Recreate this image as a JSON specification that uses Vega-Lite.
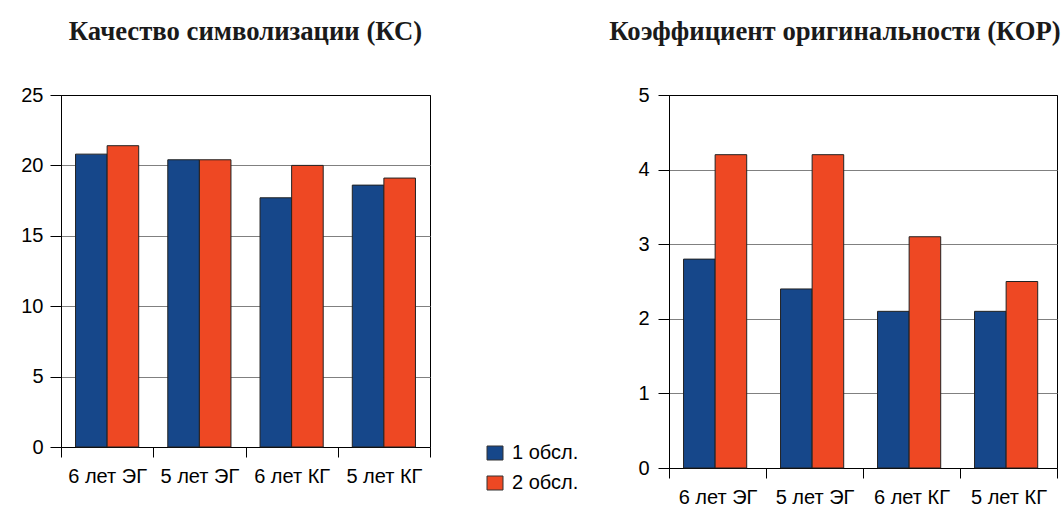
{
  "$schema": "https://vega.github.io/schema/vega-lite/v6.json",
  "padding": {"left": 20, "top": 18, "right": 0, "bottom": 0},
  "background": "#ffffff",
  "datasets": {
    "ks": [
      {"group": "6 лет ЭГ", "obs": "1 обсл.", "value": 20.8},
      {"group": "6 лет ЭГ", "obs": "2 обсл.", "value": 21.4},
      {"group": "5 лет ЭГ", "obs": "1 обсл.", "value": 20.4},
      {"group": "5 лет ЭГ", "obs": "2 обсл.", "value": 20.4},
      {"group": "6 лет КГ", "obs": "1 обсл.", "value": 17.7},
      {"group": "6 лет КГ", "obs": "2 обсл.", "value": 20.0},
      {"group": "5 лет КГ", "obs": "1 обсл.", "value": 18.6},
      {"group": "5 лет КГ", "obs": "2 обсл.", "value": 19.1}
    ],
    "kor": [
      {"group": "6 лет ЭГ", "obs": "1 обсл.", "value": 2.8},
      {"group": "6 лет ЭГ", "obs": "2 обсл.", "value": 4.2},
      {"group": "5 лет ЭГ", "obs": "1 обсл.", "value": 2.4},
      {"group": "5 лет ЭГ", "obs": "2 обсл.", "value": 4.2},
      {"group": "6 лет КГ", "obs": "1 обсл.", "value": 2.1},
      {"group": "6 лет КГ", "obs": "2 обсл.", "value": 3.1},
      {"group": "5 лет КГ", "obs": "1 обсл.", "value": 2.1},
      {"group": "5 лет КГ", "obs": "2 обсл.", "value": 2.5}
    ]
  },
  "bounds": "flush",
  "spacing": 239,
  "resolve": {"scale": {"color": "independent"}, "legend": {"color": "independent"}},
  "hconcat": [
    {
      "data": {"name": "ks"},
      "width": 369,
      "height": 352,
      "title": {"text": "Качество символизации (КС)", "offset": 39},
      "mark": {"type": "bar", "stroke": "#222222", "strokeWidth": 1},
      "encoding": {
        "x": {
          "field": "group", "type": "nominal", "sort": null,
          "scale": {"paddingInner": 0, "paddingOuter": 0},
          "axis": {"title": null, "labelAngle": 0, "tickBand": "extent", "tickSize": 10, "labelPadding": 9}
        },
        "xOffset": {
          "field": "obs", "type": "nominal", "sort": null,
          "scale": {"paddingInner": 0, "paddingOuter": 0.46}
        },
        "y": {
          "field": "value", "type": "quantitative",
          "scale": {"domain": [0, 25], "nice": false},
          "axis": {
            "title": null, "values": [0, 5, 10, 15, 20, 25], "tickSize": 11, "labelPadding": 7,
            "grid": true,
            "gridColor": {"condition": {"test": "datum.value === 25", "value": "#000000"}, "value": "#808080"}
          }
        },
        "color": {
          "field": "obs", "type": "nominal",
          "scale": {"domain": ["1 обсл.", "2 обсл."], "range": ["#16478a", "#ee4823"]},
          "legend": {
            "title": null, "orient": "none", "legendX": 424, "legendY": 348,
            "symbolType": "M-1,-0.875H1V0.875H-1Z", "symbolSize": 256,
            "symbolStrokeColor": "#333333", "symbolStrokeWidth": 1,
            "labelFontSize": 20, "labelOffset": 7, "rowPadding": 10, "padding": 0
          }
        }
      }
    },
    {
      "data": {"name": "kor"},
      "width": 388,
      "height": 373,
      "title": {"text": "Коэффициент оригинальности (КОР)", "offset": 39, "dx": -28},
      "mark": {"type": "bar", "stroke": "#222222", "strokeWidth": 1},
      "encoding": {
        "x": {
          "field": "group", "type": "nominal", "sort": null,
          "scale": {"paddingInner": 0, "paddingOuter": 0},
          "axis": {"title": null, "labelAngle": 0, "tickBand": "extent", "tickSize": 10, "labelPadding": 9}
        },
        "xOffset": {
          "field": "obs", "type": "nominal", "sort": null,
          "scale": {"paddingInner": 0, "paddingOuter": 0.5}
        },
        "y": {
          "field": "value", "type": "quantitative",
          "scale": {"domain": [0, 5], "nice": false},
          "axis": {
            "title": null, "values": [0, 1, 2, 3, 4, 5], "tickSize": 11, "labelPadding": 9,
            "grid": true,
            "gridColor": {"condition": {"test": "datum.value === 5", "value": "#000000"}, "value": "#808080"}
          }
        },
        "color": {
          "field": "obs", "type": "nominal",
          "scale": {"domain": ["1 обсл.", "2 обсл."], "range": ["#16478a", "#ee4823"]},
          "legend": null
        }
      }
    }
  ],
  "config": {
    "view": {"stroke": "#000000", "strokeWidth": 1},
    "axis": {
      "labelFont": "Liberation Sans", "labelFontSize": 20, "labelColor": "#000000",
      "domainColor": "#000000", "tickColor": "#000000", "domainWidth": 1, "tickWidth": 1,
      "gridWidth": 1.2
    },
    "legend": {"labelFont": "Liberation Sans", "labelColor": "#000000"},
    "title": {
      "font": "Liberation Serif", "fontWeight": "bold", "fontSize": 26.7, "color": "#1a1a1a",
      "anchor": "middle", "baseline": "alphabetic"
    }
  }
}
